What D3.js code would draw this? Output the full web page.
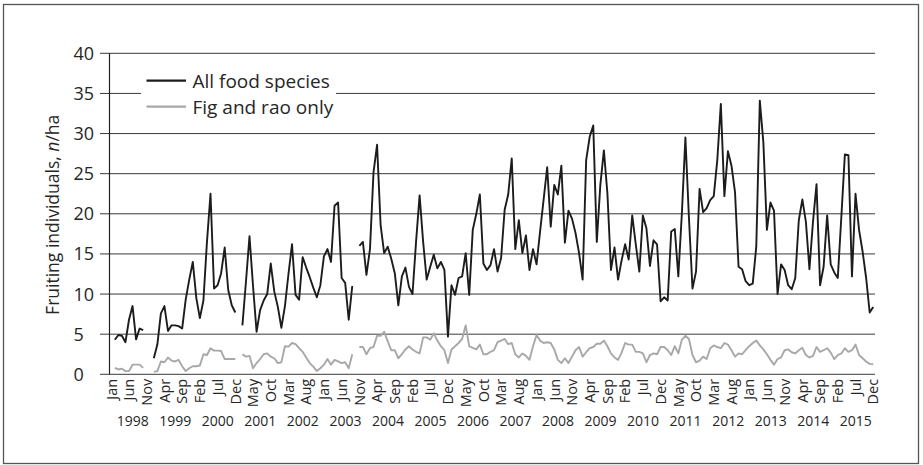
<!DOCTYPE html>
<html>
<head>
<meta charset="utf-8">
<script src="https://cdn.jsdelivr.net/npm/d3@7"></script>
<style>
  html, body { margin: 0; padding: 0; background: #fff; }
  svg { display: block; font-family: "Open Sans", "Noto Sans", sans-serif; }
</style>
</head>
<body>
<svg id="chart" width="923" height="465"></svg>
<script>
// Month and year labels
const monthNames = ["Jan","Feb","Mar","Apr","May","Jun","Jul","Aug","Sep","Oct","Nov","Dec"];
const years = [1998,1999,2000,2001,2002,2003,2004,2005,2006,2007,2008,2009,2010,2011,2012,2013,2014,2015];
const yTicks = [0,5,10,15,20,25,30,35,40];
const seriesNames = ["All food species", "Fig and rao only"];

// Fruiting individuals per ha, monthly Jan 1998 – Dec 2015 (null = no survey)
const allFood = [
  null, 4.3, 4.9, 4.8, 4.0, 6.8, 8.5, 4.35, 5.7, 5.5, null, null,      // 1998
  2.0, 3.7, 7.6, 8.5, 5.4, 6.1, 6.1, 6.0, 5.7, 9.3, 11.8, 14.0,         // 1999
  9.5, 7.0, 9.2, 16.5, 22.5, 10.7, 11.1, 12.6, 15.8, 10.5, 8.6, 7.7,    // 2000
  null, 6.1, 11.5, 17.2, 11.0, 5.3, 8.0, 9.2, 10.0, 13.8, 10.3, 8.4,    // 2001
  5.8, 8.5, 12.5, 16.2, 9.9, 9.3, 14.6, 13.3, 12.1, 10.8, 9.6, 11.1,    // 2002
  14.7, 15.6, 14.0, 21.0, 21.4, 12.0, 11.4, 6.8, 11.0, null, 16.0, 16.5,// 2003
  12.4, 15.6, 25.2, 28.6, 18.6, 15.1, 15.9, 14.4, 12.6, 8.6, 12.2, 13.3,// 2004
  10.9, 10.0, 16.5, 22.3, 16.5, 11.8, 13.4, 14.9, 13.2, 14.0, 13.0, 4.7,// 2005
  11.1, 9.9, 12.0, 12.2, 15.1, 9.9, 18.0, 20.0, 22.4, 13.8, 13.0, 13.6, // 2006
  15.6, 12.8, 14.5, 20.5, 22.4, 26.9, 15.6, 19.2, 15.1, 17.3, 13.0, 15.6,// 2007
  13.7, 17.8, 21.8, 25.8, 18.4, 23.6, 22.4, 26.0, 16.4, 20.4, 19.4, 17.6,// 2008
  15.1, 11.8, 26.7, 29.6, 31.0, 16.5, 23.6, 27.9, 22.5, 13.0, 15.8, 11.8,// 2009
  14.2, 16.2, 14.3, 19.8, 16.2, 12.8, 19.8, 18.2, 13.5, 16.7, 16.2, 9.1, // 2010
  9.6, 9.2, 17.8, 18.1, 12.2, 20.0, 29.5, 19.5, 10.7, 12.8, 23.1, 20.2,  // 2011
  20.7, 21.7, 22.2, 26.7, 33.7, 22.2, 27.8, 26.0, 22.7, 13.4, 13.1, 11.6,// 2012
  11.1, 11.3, 15.9, 34.1, 28.9, 18.0, 21.4, 20.4, 10.0, 13.7, 13.0, 11.1,// 2013
  10.6, 12.0, 19.2, 21.8, 19.0, 13.1, 19.0, 23.7, 11.1, 13.4, 19.8, 13.7,// 2014
  12.7, 12.0, 19.6, 27.4, 27.3, 12.2, 22.5, 18.0, 15.3, 12.0, 7.7, 8.4   // 2015
];

const figRao = [
  null, 0.8, 0.6, 0.7, 0.4, 0.4, 1.2, 1.2, 1.2, 0.8, null, null,        // 1998
  0.3, 0.4, 1.6, 1.5, 2.1, 1.7, 1.6, 1.8, 1.0, 0.4, 0.75, 1.0,          // 1999
  1.0, 1.1, 2.5, 2.4, 3.25, 2.95, 2.95, 2.9, 1.9, 1.9, 1.9, 1.9,        // 2000
  null, 2.5, 2.2, 2.3, 0.75, 1.4, 1.9, 2.5, 2.6, 2.2, 2.0, 1.4,         // 2001
  1.5, 3.5, 3.45, 3.9, 3.75, 3.25, 2.8, 2.1, 1.4, 0.95, 0.4, 0.75,      // 2002
  1.2, 1.9, 1.2, 1.8, 1.6, 1.4, 1.5, 0.75, 2.5, null, 3.4, 3.4,         // 2003
  2.5, 3.25, 3.4, 4.8, 4.8, 5.3, 4.1, 3.0, 3.0, 2.0, 2.5, 3.1,          // 2004
  3.5, 3.1, 2.8, 2.6, 4.6, 4.6, 4.3, 5.1, 4.2, 3.5, 3.0, 1.4,           // 2005
  3.1, 3.5, 3.9, 4.4, 6.1, 3.5, 3.3, 3.1, 3.7, 2.5, 2.5, 2.8,           // 2006
  3.0, 4.0, 4.2, 4.4, 3.75, 3.9, 2.5, 2.1, 2.6, 2.3, 1.8, 3.5,          // 2007
  4.9, 4.2, 3.9, 4.0, 3.9, 3.1, 1.8, 1.4, 2.0, 1.4, 2.2, 3.0,           // 2008
  3.4, 2.2, 2.75, 3.25, 3.4, 3.8, 3.8, 4.2, 3.5, 2.6, 2.1, 1.8,         // 2009
  2.7, 3.9, 3.7, 3.7, 2.8, 2.8, 2.6, 1.5, 2.4, 2.6, 2.5, 3.4,           // 2010
  3.4, 3.0, 2.4, 3.5, 2.6, 4.3, 4.8, 4.4, 2.4, 1.5, 1.7, 2.2,           // 2011
  1.9, 3.25, 3.6, 3.4, 3.25, 3.9, 3.7, 3.0, 2.2, 2.6, 2.5, 3.0,         // 2012
  3.5, 3.9, 4.2, 3.6, 3.1, 2.5, 1.8, 1.2, 1.9, 2.1, 3.0, 3.1,           // 2013
  2.75, 2.6, 3.0, 3.3, 2.4, 2.1, 2.3, 3.4, 2.8, 3.0, 3.25, 2.7,         // 2014
  1.9, 2.4, 2.6, 3.25, 2.8, 3.0, 3.7, 2.4, 2.0, 1.6, 1.3, 1.25          // 2015
];

const svg = d3.select("#chart");
const textColor = "#262626";

// Outer frame
svg.append("rect")
  .attr("x", 3.5).attr("y", 4.5).attr("width", 915).attr("height", 459)
  .attr("fill", "#fff").attr("stroke", "#555").attr("stroke-width", 1.3);

const plotLeft = 109.5, plotRight = 875, plotTop = 53.3, plotBottom = 374.3;

const x = d3.scaleBand()
  .domain(d3.range(allFood.length))
  .range([plotLeft, plotRight])
  .paddingInner(0).paddingOuter(0);
const cx = i => x(i) + x.bandwidth() / 2;

const y = d3.scaleLinear().domain([0, 40]).range([plotBottom, plotTop]);

// Horizontal gridlines (extend slightly left of the axis as ticks)
svg.append("g").selectAll("line")
  .data(yTicks)
  .join("line")
  .attr("x1", plotLeft - 9.5).attr("x2", plotRight)
  .attr("y1", d => y(d)).attr("y2", d => y(d))
  .attr("stroke", "#3a3a3a").attr("stroke-width", 1);

// Y axis tick labels
svg.append("g").selectAll("text")
  .data(yTicks)
  .join("text")
  .attr("x", 73.5).attr("y", d => y(d))
  .attr("dy", "0.36em")
  .attr("font-size", 18)
  .attr("fill", textColor)
  .text(d => d);

// Y axis line
svg.append("line")
  .attr("x1", plotLeft).attr("x2", plotLeft)
  .attr("y1", plotTop).attr("y2", plotBottom)
  .attr("stroke", "#222").attr("stroke-width", 1.2);

// Y axis title
const yTitle = svg.append("text")
  .attr("transform", `translate(52.5,${(plotTop + plotBottom) / 2 + 1}) rotate(-90)`)
  .attr("text-anchor", "middle")
  .attr("dy", "0.35em")
  .attr("font-size", 17.5)
  .attr("fill", textColor);
yTitle.append("tspan").text("Fruiting individuals, ");
yTitle.append("tspan").attr("font-style", "italic").text("n");
yTitle.append("tspan").text("/ha");

// Month labels every five months
const monthAxis = d3.axisBottom(x)
  .tickValues(d3.range(0, allFood.length, 5))
  .tickFormat(i => monthNames[i % 12])
  .tickSize(0);
const mg = svg.append("g")
  .attr("transform", `translate(0,${plotBottom})`)
  .call(monthAxis);
mg.select(".domain").remove();
mg.selectAll("text")
  .attr("transform", "rotate(-90)")
  .attr("text-anchor", "end")
  .attr("x", -4.5).attr("y", 0).attr("dy", "0.36em")
  .attr("font-size", 14.5)
  .attr("font-family", "\"Open Sans\", \"Noto Sans\", sans-serif")
  .attr("fill", textColor);

// Year labels centred on each twelve-month group
svg.append("g").selectAll("text")
  .data(years)
  .join("text")
  .attr("x", (d, k) => (x(k * 12) + x(k * 12 + 11) + x.bandwidth()) / 2 + 2)
  .attr("y", 426)
  .attr("text-anchor", "middle")
  .attr("font-size", 14)
  .attr("fill", textColor)
  .text(d => d);

// Series lines
const line = d3.line()
  .defined(d => d != null)
  .x((d, i) => cx(i))
  .y(d => y(d));

svg.append("path")
  .datum(allFood)
  .attr("d", line)
  .attr("fill", "none")
  .attr("stroke", "#1c1c1c")
  .attr("stroke-width", 1.9)
  .attr("stroke-linejoin", "round");

svg.append("path")
  .datum(figRao)
  .attr("d", line)
  .attr("fill", "none")
  .attr("stroke", "#a8a8a8")
  .attr("stroke-width", 1.9)
  .attr("stroke-linejoin", "round");

// Legend
const legend = svg.append("g");
legend.append("rect")
  .attr("x", 141).attr("y", 63).attr("width", 195).attr("height", 58)
  .attr("fill", "#fff");
const legendItems = [
  { name: seriesNames[0], color: "#1c1c1c", yPos: 80.7 },
  { name: seriesNames[1], color: "#a8a8a8", yPos: 106.7 }
];
legendItems.forEach(it => {
  legend.append("line")
    .attr("x1", 146.5).attr("x2", 186)
    .attr("y1", it.yPos).attr("y2", it.yPos)
    .attr("stroke", it.color).attr("stroke-width", 2.2);
  legend.append("text")
    .attr("x", 192.5).attr("y", it.yPos)
    .attr("dy", "0.36em")
    .attr("font-size", 19)
    .attr("fill", textColor)
    .text(it.name);
});
</script>
</body>
</html>
